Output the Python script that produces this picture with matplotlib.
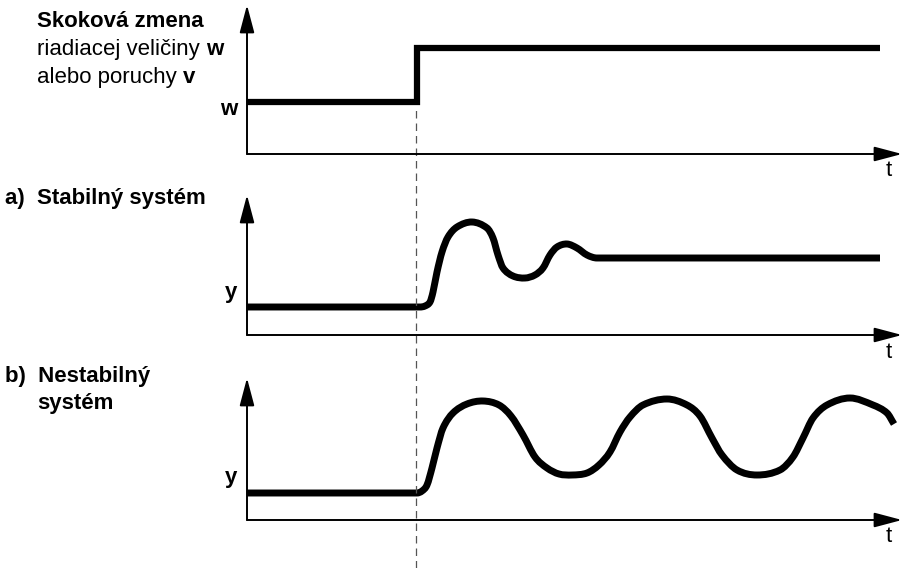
import matplotlib
matplotlib.use("Agg")
import matplotlib.pyplot as plt
from matplotlib.path import Path
from matplotlib.patches import PathPatch

plt.rcParams["font.family"] = ["Liberation Sans", "DejaVu Sans"]

# -------------------- DATA --------------------
# time in px-like units from the y axis, values above each panel's t axis
t_skok = [0, 170, 170, 633]
w_skok = [52, 52, 106, 106]

t_stab = [0, 173, 178, 183, 186, 190, 195, 201, 210, 225, 240, 246, 251,
          256, 266, 278, 288, 296, 303, 310, 320, 330, 340, 350, 363, 633]
y_stab = [28, 28, 29, 33, 43, 63, 83, 98, 108, 113, 107, 97, 80,
          67, 59, 57, 60, 67, 80, 88, 91, 87, 80, 77, 77, 77]

t_nestab = [0, 170, 175, 180, 185, 190, 196, 206, 220, 236,
            252, 264, 276, 288, 300, 312, 325,
            340, 352, 363, 373, 383, 396, 420,
            440, 453, 465, 475, 490, 510,
            533, 546, 556, 566, 580, 603,
            626, 640, 647]
y_nestab = [27, 27, 29, 35, 52, 72, 92, 107, 116, 119,
            115, 104, 85, 63, 52, 46, 45,
            47, 55, 68, 88, 103, 115, 121,
            115, 104, 82, 65, 50, 45,
            50, 63, 82, 102, 115, 122,
            115, 107, 96]

t_zmena = 169


# -------------------- HLADKA KRIVKA --------------------
def smooth_path(ts, ys, base):
    # cubic Hermite segments through the read points, centred-difference slopes
    n = len(ts)
    m = [0.0] * n
    m[0] = (ys[1] - ys[0]) / (ts[1] - ts[0])
    m[-1] = (ys[-1] - ys[-2]) / (ts[-1] - ts[-2])
    for i in range(1, n - 1):
        if ys[i] == ys[i - 1] or ys[i] == ys[i + 1]:
            m[i] = 0.0  # keep flat stretches flat
        else:
            m[i] = (ys[i + 1] - ys[i - 1]) / (ts[i + 1] - ts[i - 1])
    verts = [(ts[0], ys[0] + base)]
    codes = [Path.MOVETO]
    for i in range(n - 1):
        h = ts[i + 1] - ts[i]
        verts += [(ts[i] + h / 3, ys[i] + m[i] * h / 3 + base),
                  (ts[i + 1] - h / 3, ys[i + 1] - m[i + 1] * h / 3 + base),
                  (ts[i + 1], ys[i + 1] + base)]
        codes += [Path.CURVE4] * 3
    return Path(verts, codes)


# -------------------- LAYOUT --------------------
panel_base = [414, 233, 48]      # where each t axis sits
axis_height = [149, 140, 142]
axis_len = 655

fig = plt.figure(figsize=(9.11, 5.68), dpi=100)
ax = fig.add_axes([0, 0, 1, 1])
ax.set_xlim(-247, 664)
ax.set_ylim(0, 568)
ax.axis("off")

arrow = dict(arrowstyle="-|>,head_length=1.7,head_width=0.45", mutation_scale=10,
             lw=1.4, color="black", shrinkA=0, shrinkB=0)

for base, h in zip(panel_base, axis_height):
    ax.annotate("", xy=(axis_len, base), xytext=(0, base), arrowprops=arrow)
    ax.annotate("", xy=(0, base + h), xytext=(0, base), arrowprops=arrow)
    ax.text(642, base - 17, "t", fontsize=16, ha="center", va="center")

# dashed line at the moment of the step
ax.plot([t_zmena, t_zmena], [0, panel_base[0] + w_skok[0] - 4], color="#555555",
        lw=0.9, dashes=(6, 4))

# curves
ax.plot(t_skok, [v + panel_base[0] for v in w_skok], color="black", lw=4.5,
        solid_joinstyle="miter", solid_capstyle="butt")
ax.add_patch(PathPatch(smooth_path(t_stab, y_stab, panel_base[1]), fill=False,
                       lw=5, edgecolor="black", capstyle="butt", joinstyle="round"))
ax.add_patch(PathPatch(smooth_path(t_nestab, y_nestab, panel_base[2]), fill=False,
                       lw=5, edgecolor="black", capstyle="butt", joinstyle="round"))

# texts
fs = 16
ax.text(-210, 541, "Skoková zmena", fontsize=fs, fontweight="bold", va="baseline")
r2 = ax.text(-210, 513, "riadiacej veličiny ", fontsize=fs, va="baseline")
ax.annotate("w", xy=(1, 0), xycoords=r2, fontsize=fs, fontweight="bold", va="bottom")
r3 = ax.text(-210, 485, "alebo poruchy ", fontsize=fs, va="baseline")
ax.annotate("v", xy=(1, 0), xycoords=r3, fontsize=fs, fontweight="bold", va="bottom")
ax.text(-10, 453, "w", fontsize=fs, fontweight="bold", ha="right", va="baseline")

ax.text(-242, 364, "a)  Stabilný systém", fontsize=fs, fontweight="bold", va="baseline")
ax.text(-10, 270, "y", fontsize=fs, fontweight="bold", ha="right", va="baseline")

ax.text(-242, 186, "b)  Nestabilný", fontsize=fs, fontweight="bold", va="baseline")
ax.text(-210, 159, "systém", fontsize=fs, fontweight="bold", va="baseline")
ax.text(-10, 85, "y", fontsize=fs, fontweight="bold", ha="right", va="baseline")

fig.savefig("out.png", dpi=100)
